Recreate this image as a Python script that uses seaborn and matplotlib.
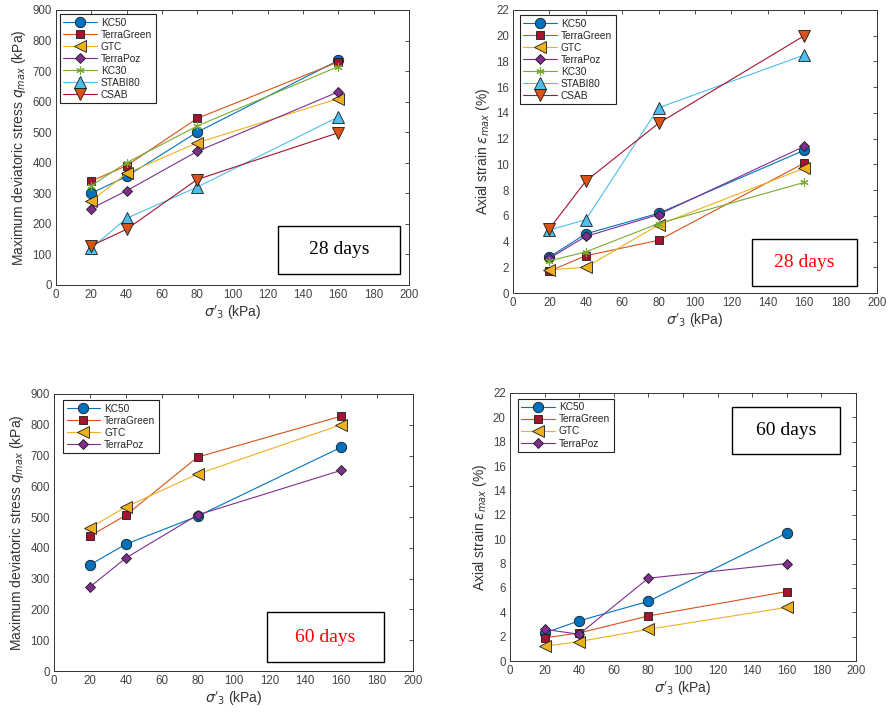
import numpy as np
import pandas as pd
import seaborn as sns
import matplotlib.pyplot as plt
from matplotlib.patches import Rectangle

# confining pressure (kPa)
sigma3 = [20, 40, 80, 160]

# 28 days - maximum deviatoric stress (kPa)
q28_kc50 = [300, 355, 500, 735]
q28_terragreen = [340, 390, 545, 730]
q28_gtc = [275, 365, 465, 610]
q28_terrapoz = [250, 308, 437, 632]
q28_kc30 = [325, 400, 520, 715]
q28_stabi80 = [120, 218, 320, 550]
q28_csab = [128, 182, 345, 498]

# 28 days - axial strain (%)
e28_kc50 = [2.8, 4.6, 6.2, 11.1]
e28_terragreen = [1.7, 2.9, 4.1, 10.1]
e28_gtc = [1.8, 2.0, 5.3, 9.7]
e28_terrapoz = [2.7, 4.4, 6.1, 11.4]
e28_kc30 = [2.5, 3.2, 5.4, 8.6]
e28_stabi80 = [4.9, 5.7, 14.4, 18.5]
e28_csab = [5.0, 8.7, 13.2, 20.0]

# 60 days - maximum deviatoric stress (kPa)
q60_kc50 = [345, 412, 503, 727]
q60_terragreen = [438, 506, 695, 828]
q60_gtc = [465, 533, 640, 800]
q60_terrapoz = [273, 367, 507, 652]

# 60 days - axial strain (%)
e60_kc50 = [2.3, 3.3, 4.9, 10.5]
e60_terragreen = [1.9, 2.3, 3.7, 5.7]
e60_gtc = [1.2, 1.6, 2.6, 4.4]
e60_terrapoz = [2.6, 2.2, 6.8, 8.0]

names = ["KC50", "TerraGreen", "GTC", "TerraPoz", "KC30", "STABI80", "CSAB"]

# MATLAB-like styles: (line colour, marker, marker face, marker edge)
styles = {
    "KC50": ("#0072BD", "o", "#0072BD", "#1a1a1a"),
    "TerraGreen": ("#D95319", "s", "#A2142F", "#1a1a1a"),
    "GTC": ("#EDB120", "<", "#EDB120", "#1a1a1a"),
    "TerraPoz": ("#7E2F8E", "D", "#7E2F8E", "#1a1a1a"),
    "KC30": ("#77AC30", (6, 2, 0), "#77AC30", "#77AC30"),
    "STABI80": ("#4DBEEE", "^", "#4DBEEE", "#1a1a1a"),
    "CSAB": ("#A2142F", "v", "#D95319", "#1a1a1a"),
}
msizes = {"KC50": 7.5, "TerraGreen": 5.5, "GTC": 8, "TerraPoz": 5.5, "KC30": 6,
          "STABI80": 8, "CSAB": 8}

sns.set_theme(style="white")
plt.rcParams['font.family'] = ['Liberation Sans', 'DejaVu Sans']
plt.rcParams['mathtext.fontset'] = 'dejavusans'

fig = plt.figure(figsize=(8.88, 7.14), dpi=100)

panels = [
    # rect, series dict, ylim, yticks, ylabel, box text, text colour, box rect, legend anchor
    ([0.063, 0.601, 0.3975, 0.385],
     dict(zip(names, [q28_kc50, q28_terragreen, q28_gtc, q28_terrapoz, q28_kc30, q28_stabi80, q28_csab])),
     (0, 900), np.arange(0, 901, 100), r"Maximum deviatoric stress $q_{max}$ (kPa)",
     "28 days", "black", (0.63, 0.04, 0.345, 0.175), (0.011, 0.985)),
    ([0.5777, 0.5896, 0.41, 0.3964],
     dict(zip(names, [e28_kc50, e28_terragreen, e28_gtc, e28_terrapoz, e28_kc30, e28_stabi80, e28_csab])),
     (0, 22), np.arange(0, 23, 2), r"Axial strain $\varepsilon_{max}$ (%)",
     "28 days", "red", (0.657, 0.025, 0.288, 0.166), (0.019, 0.982)),
    ([0.0608, 0.0602, 0.4043, 0.388],
     dict(zip(names[:4], [q60_kc50, q60_terragreen, q60_gtc, q60_terrapoz])),
     (0, 900), np.arange(0, 901, 100), r"Maximum deviatoric stress $q_{max}$ (kPa)",
     "60 days", "red", (0.593, 0.032, 0.326, 0.181), (0.025, 0.978)),
    ([0.5743, 0.0742, 0.3896, 0.3754],
     dict(zip(names[:4], [e60_kc50, e60_terragreen, e60_gtc, e60_terrapoz])),
     (0, 22), np.arange(0, 23, 2), r"Axial strain $\varepsilon_{max}$ (%)",
     "60 days", "black", (0.642, 0.772, 0.312, 0.176), (0.023, 0.978)),
]

for rect, series, ylim, yticks, ylabel, label, tcolor, box, anchor in panels:
    ax = fig.add_axes(rect)
    for name, vals in series.items():
        lc, mk, mfc, mec = styles[name]
        sns.lineplot(x=sigma3, y=vals, ax=ax, color=lc, marker=mk, markersize=msizes[name],
                     markerfacecolor=mfc, markeredgecolor=mec,
                     markeredgewidth=0.8 if name == "KC30" else 0.6,
                     linewidth=0.8, label=name)
    ax.set_xlim(0, 200)
    ax.set_xticks(np.arange(0, 201, 20))
    ax.set_ylim(*ylim)
    ax.set_yticks(yticks)
    ax.set_xlabel(r"$\sigma'_3$ (kPa)", fontsize=10, color="#333333", labelpad=2)
    ax.set_ylabel(ylabel, fontsize=10, color="#333333", labelpad=3)
    ax.tick_params(direction="in", length=3, width=0.6, top=True, right=True,
                   labelsize=8.3, labelcolor="#444444", color="#333333", pad=3)
    for sp in ax.spines.values():
        sp.set_color("#333333")
        sp.set_linewidth(0.7)
    leg = ax.legend(loc="upper left", bbox_to_anchor=anchor, borderaxespad=0, fontsize=7.3,
                    frameon=True, fancybox=False, edgecolor="#222222", framealpha=1,
                    handlelength=3.3, labelspacing=0.2, borderpad=0.35, handletextpad=0.4)
    leg.get_frame().set_linewidth(0.8)
    ax.add_patch(Rectangle((box[0], box[1]), box[2], box[3], transform=ax.transAxes,
                           fill=False, edgecolor="black", linewidth=1.0, zorder=5))
    ax.text(box[0] + box[2] / 2, box[1] + box[3] / 2, label, transform=ax.transAxes,
            ha="center", va="center", fontsize=14, color=tcolor,
            family=["Liberation Serif", "DejaVu Serif"], zorder=6)

fig.savefig("out.png", dpi=100)
